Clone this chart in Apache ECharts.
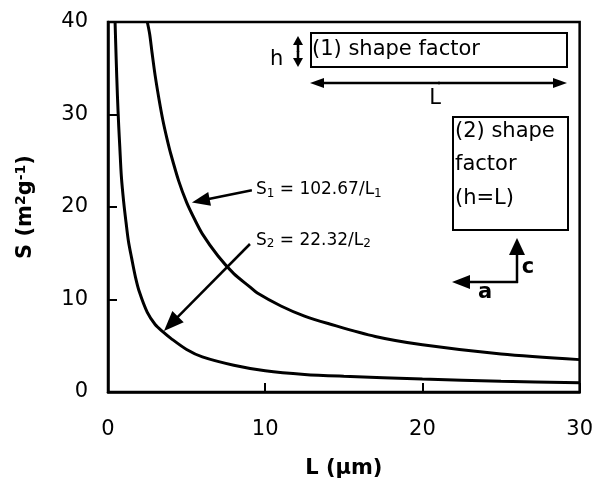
<!DOCTYPE html>
<html>
<head>
<meta charset="utf-8">
<script src="https://cdn.jsdelivr.net/npm/echarts@6/dist/echarts.min.js"></script>
<style>
  html, body { margin: 0; padding: 0; background: #fff; }
  #chart { width: 596px; height: 488px; }
</style>
</head>
<body>
<div id="chart"></div>
<script>
// values
const s1L = [2.5, 2.65, 2.8, 3, 3.25, 3.5, 3.75, 4, 4.5, 5, 5.5, 6, 7, 8, 9, 9.5, 11, 12.5, 14, 17, 20, 25, 30];
const s1S = [40, 38.7, 36.7, 34.2, 31.6, 29.3, 27.4, 25.7, 22.8, 20.5, 18.7, 17.1, 14.7, 12.8, 11.4, 10.7, 9.3, 8.2, 7.4, 6.0, 5.1, 4.1, 3.5];
const s2L = [0.45, 0.52, 0.6, 0.68, 0.75, 0.85, 1.0, 1.15, 1.3, 1.5, 1.75, 2.0, 2.5, 3.0, 3.5, 4.0, 5.0, 6.0, 8.0, 10, 12.5, 15, 20, 25, 30];
const s2S = [40, 36, 32, 28.8, 26.5, 23.3, 20.5, 18.3, 16.3, 14.5, 12.4, 10.8, 8.6, 7.3, 6.5, 5.8, 4.6, 3.8, 2.9, 2.3, 1.9, 1.7, 1.4, 1.15, 1.0];
const xTicks = [0, 30, 10];   // min, max, interval
const yTicks = [0, 40, 10];

const FONT = '"DejaVu Sans", Arial, sans-serif';

let chart = echarts.init(document.getElementById('chart'));

const zip = (xs, ys) => xs.map((x, i) => [x, ys[i]]);

let option = {
    animation: false,
    backgroundColor: '#fff',
    grid: {
        left: 108, right: 16, top: 22, bottom: 96,
        show: true,
        borderColor: '#000',
        borderWidth: 2.5
    },
    xAxis: {
        type: 'value',
        min: xTicks[0], max: xTicks[1], interval: xTicks[2],
        name: 'L (µm)',
        nameLocation: 'middle',
        nameGap: 66,
        nameTextStyle: { fontSize: 21, fontWeight: 'bold', color: '#000', fontFamily: FONT },
        axisLine: { lineStyle: { color: '#000', width: 2.5 } },
        axisTick: { inside: true, length: 9, lineStyle: { color: '#000', width: 2 } },
        axisLabel: { fontSize: 21, color: '#000', fontFamily: FONT, margin: 27 },
        splitLine: { show: false }
    },
    yAxis: {
        type: 'value',
        min: yTicks[0], max: yTicks[1], interval: yTicks[2],
        name: '{b|S (m}{p|2}{b|g}{p|-1}{b|)}',
        nameLocation: 'middle',
        nameGap: 70,
        nameTextStyle: {
            rich: {
                b: { fontSize: 21, fontWeight: 'bold', color: '#000', fontFamily: FONT, lineHeight: 24 },
                p: { fontSize: 14, fontWeight: 'bold', color: '#000', fontFamily: FONT, lineHeight: 13, verticalAlign: 'top' }
            }
        },
        axisLine: { lineStyle: { color: '#000', width: 2.5 } },
        axisTick: { inside: true, length: 9, lineStyle: { color: '#000', width: 2 } },
        axisLabel: { fontSize: 21, color: '#000', fontFamily: FONT, margin: 20 },
        splitLine: { show: false }
    },
    series: [
        {
            name: 'S1',
            type: 'line',
            data: zip(s1L, s1S),
            showSymbol: false,
            smooth: 0.3,
            lineStyle: { color: '#000', width: 3 },
            clip: true
        },
        {
            name: 'S2',
            type: 'line',
            data: zip(s2L, s2S),
            showSymbol: false,
            smooth: 0.3,
            lineStyle: { color: '#000', width: 3 },
            clip: true
        }
    ]
};

chart.setOption(option);

// arrow: line + filled triangle head at (x2, y2)
function arrow(x1, y1, x2, y2, len, wid) {
    const dx = x2 - x1, dy = y2 - y1;
    const d = Math.sqrt(dx * dx + dy * dy);
    const ux = dx / d, uy = dy / d;
    const bx = x2 - ux * len, by = y2 - uy * len;
    const px = -uy * wid / 2, py = ux * wid / 2;
    return [
        { type: 'polyline', shape: { points: [[x1, y1], [bx + ux, by + uy]] }, style: { stroke: '#000', lineWidth: 2.5, fill: null } },
        { type: 'polygon', shape: { points: [[x2, y2], [bx + px, by + py], [bx - px, by - py]] }, style: { fill: '#000' } }
    ];
}

function px(p) { return chart.convertToPixel({ gridIndex: 0 }, p); }

function txt(x, y, text, opts) {
    return {
        type: 'text', x: x, y: y,
        style: Object.assign({
            text: text, fontSize: 21, fontFamily: FONT, fill: '#000',
            align: 'left', verticalAlign: 'middle'
        }, opts || {})
    };
}

const subRich = {
    n: { fontSize: 17, fontFamily: FONT, fill: '#000', lineHeight: 20 },
    s: { fontSize: 12, fontFamily: FONT, fill: '#000', lineHeight: 11, verticalAlign: 'bottom' }
};

let g = [];

// curve annotations (data coordinates)
let a1t = px([9.15, 21.8]), a1h = px([5.34, 20.5]);
let a2t = px([9.03, 16.0]), a2h = px([3.56, 6.6]);
g = g.concat(arrow(a1t[0], a1t[1], a1h[0], a1h[1], 18, 14));
g = g.concat(arrow(a2t[0], a2t[1], a2h[0], a2h[1], 20, 16));
let l1 = px([9.41, 21.9]), l2 = px([9.41, 16.4]);
g.push(txt(l1[0], l1[1], '{n|S}{s|1}{n| = 102.67/L}{s|1}', { rich: subRich }));
g.push(txt(l2[0], l2[1], '{n|S}{s|2}{n| = 22.32/L}{s|2}', { rich: subRich }));

// inset sketch: shape factor boxes
g.push({ type: 'rect', shape: { x: 311, y: 33, width: 256, height: 34 }, style: { stroke: '#000', lineWidth: 2, fill: null } });
g.push(txt(312, 50, '(1) shape factor'));
g.push(txt(270, 60, 'h'));
g = g.concat(arrow(298, 52, 298, 36, 9, 10));
g = g.concat(arrow(298, 51, 298, 67, 9, 10));
g = g.concat(arrow(440, 83, 310, 83, 14, 10));
g = g.concat(arrow(438, 83, 567, 83, 14, 10));
g.push(txt(435, 99, 'L', { align: 'center' }));

g.push({ type: 'rect', shape: { x: 453, y: 117, width: 115, height: 113 }, style: { stroke: '#000', lineWidth: 2, fill: null } });
g.push(txt(455, 132, '(2) shape'));
g.push(txt(455, 165, 'factor'));
g.push(txt(455, 199, '(h=L)'));

g = g.concat(arrow(517, 283, 517, 238, 17, 16));
g = g.concat(arrow(518, 282, 452, 282, 18, 14));
g.push(txt(528, 268, 'c', { fontWeight: 'bold', align: 'center' }));
g.push(txt(485, 293, 'a', { fontWeight: 'bold', align: 'center' }));

chart.setOption({ graphic: g });
</script>
</body>
</html>
